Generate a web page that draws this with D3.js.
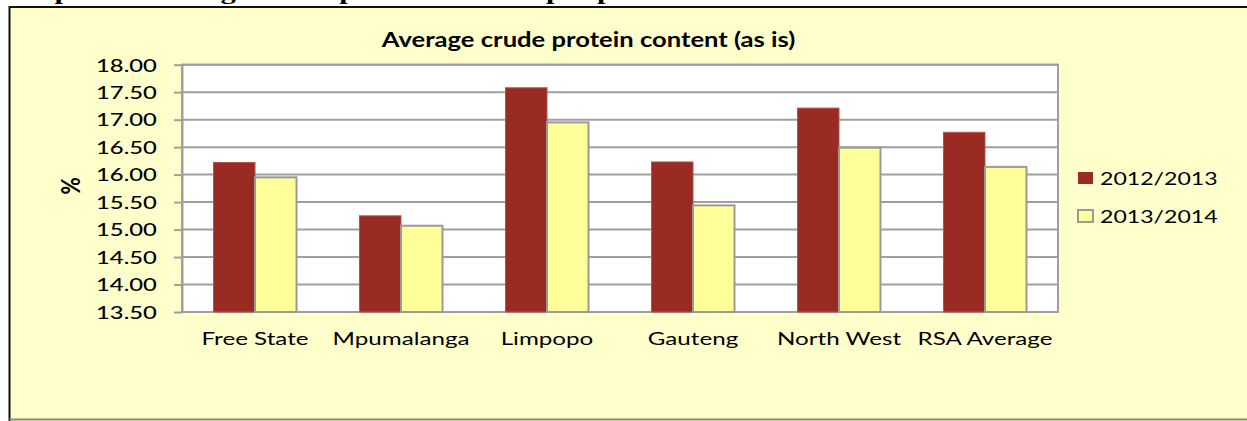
<!DOCTYPE html>
<html>
<head>
<meta charset="utf-8">
<script src="https://cdn.jsdelivr.net/npm/d3@7"></script>
<style>
  body { margin: 0; background: #fff; }
  svg { display: block; }
</style>
</head>
<body>
<div id="visualization"></div>
<script>
const categories = ['Free State', 'Mpumalanga', 'Limpopo', 'Gauteng', 'North West', 'RSA Average'];
const seriesNames = ['2012/2013', '2013/2014'];
const values2012 = [16.22, 15.25, 17.58, 16.23, 17.21, 16.77];
const values2013 = [15.95, 15.07, 16.95, 15.44, 16.49, 16.14];
const yTicks = [13.5, 14, 14.5, 15, 15.5, 16, 16.5, 17, 17.5, 18];
const chartTitle = 'Average crude protein content (as is)';
const captionText = 'Graph 10: Average crude protein content per province';

const width = 1247;
const height = 421;
const plot = { left: 182, right: 1058, top: 64.7, bottom: 312 };
const SX = 1.44; // the picture is stretched sideways, so is the text
const font = 'Lato, "DejaVu Sans", sans-serif';
const colors = ['#992B22', '#FFFF99'];

const svg = d3.select('#visualization')
  .append('svg')
  .attr('width', width)
  .attr('height', height);

// text placed at (x, y) and widened like the source
function stretchedText(x, y, str, sx = SX) {
  return svg.append('text')
    .attr('transform', `translate(${x},${y}) scale(${sx},1)`)
    .style('font-family', font)
    .text(str);
}

// caption above the chart box, only its descenders show
svg.append('text')
  .attr('transform', 'translate(2,-1) scale(1.39,1)')
  .style('font-family', '"Liberation Serif", serif')
  .style('font-weight', 'bold')
  .style('font-size', '22px')
  .text(captionText);

// chart box
svg.append('rect')
  .attr('x', 9.5)
  .attr('y', 7)
  .attr('width', width)
  .attr('height', 412)
  .attr('fill', '#FFFFCC')
  .attr('stroke', 'none');
svg.append('path')
  .attr('d', `M9.5,${height} V7 H${width}`)
  .attr('fill', 'none')
  .attr('stroke', '#111')
  .attr('stroke-width', 2);
svg.append('line')
  .attr('x1', 9.5).attr('x2', width)
  .attr('y1', 419.5).attr('y2', 419.5)
  .attr('stroke', '#8a8a6a')
  .attr('stroke-width', 2);

// scales
const x0 = d3.scaleBand()
  .domain(categories)
  .range([plot.left, plot.right])
  .paddingInner(0.4315)
  .paddingOuter(0.2158);

const x1 = d3.scaleBand()
  .domain(seriesNames)
  .range([0, x0.bandwidth()]);

const y = d3.scaleLinear()
  .domain([13.5, 18])
  .range([plot.bottom, plot.top]);

// plot area
svg.append('rect')
  .attr('x', plot.left)
  .attr('y', plot.top)
  .attr('width', plot.right - plot.left)
  .attr('height', plot.bottom - plot.top)
  .attr('fill', '#fff');

svg.append('g')
  .selectAll('line')
  .data(yTicks)
  .enter()
  .append('line')
  .attr('x1', plot.left)
  .attr('x2', plot.right)
  .attr('y1', (d) => y(d))
  .attr('y2', (d) => y(d))
  .attr('stroke', '#9f9f9f')
  .attr('stroke-width', 2);

svg.append('rect')
  .attr('x', plot.left)
  .attr('y', plot.top)
  .attr('width', plot.right - plot.left)
  .attr('height', plot.bottom - plot.top)
  .attr('fill', 'none')
  .attr('stroke', '#9f9f9f')
  .attr('stroke-width', 2);

// bars
const rows = categories.map((c, i) => ({ category: c, values: [values2012[i], values2013[i]] }));

svg.append('g')
  .selectAll('g')
  .data(rows)
  .enter()
  .append('g')
  .attr('transform', (d) => `translate(${x0(d.category)},0)`)
  .selectAll('rect')
  .data((d) => d.values.map((v, j) => ({ series: seriesNames[j], value: v, j })))
  .enter()
  .append('rect')
  .attr('x', (d) => x1(d.series))
  .attr('y', (d) => y(d.value))
  .attr('width', x1.bandwidth())
  .attr('height', (d) => y(13.5) - y(d.value))
  .attr('fill', (d) => colors[d.j])
  .attr('stroke', (d) => (d.j === 0 ? '#b8544c' : '#9a9a9a'))
  .attr('stroke-width', (d) => (d.j === 0 ? 1 : 2));

// y axis
const yAxis = svg.append('g')
  .attr('transform', `translate(${plot.left},0)`)
  .call(d3.axisLeft(y).tickValues(yTicks).tickSize(8).tickSizeOuter(0).tickFormat(d3.format('.2f')));

yAxis.select('.domain').attr('stroke', '#9f9f9f').attr('stroke-width', 2);
yAxis.selectAll('.tick line').attr('stroke', '#9f9f9f').attr('stroke-width', 2);
yAxis.selectAll('.tick text')
  .attr('x', -18.5)
  .attr('dy', '0.36em')
  .attr('transform', 'scale(1.36,1)')
  .style('font-family', font)
  .style('font-size', '17.5px')
  .style('font-weight', 500)
  .attr('fill', '#000');

// x labels
categories.forEach((c) => {
  stretchedText(x0(c) + x0.bandwidth() / 2, 345, c)
    .attr('text-anchor', 'middle')
    .style('font-size', '16.8px')
    .attr('fill', '#000');
});

// title
stretchedText(588.5, 47, chartTitle, 1.28)
  .attr('text-anchor', 'middle')
  .style('font-size', '20px')
  .style('font-weight', 'bold')
  .attr('fill', '#000');

// y label
svg.append('text')
  .attr('transform', 'translate(80,186) rotate(-90) scale(1,1.3)')
  .attr('text-anchor', 'middle')
  .style('font-family', font)
  .style('font-size', '21px')
  .style('font-weight', 'bold')
  .attr('fill', '#000')
  .text('%');

// legend
seriesNames.forEach((s, i) => {
  const ly = 178 + i * 38;
  svg.append('rect')
    .attr('x', 1078)
    .attr('y', ly - 6)
    .attr('width', 15)
    .attr('height', 12)
    .attr('fill', colors[i])
    .attr('stroke', i === 0 ? 'none' : '#9a9a9a')
    .attr('stroke-width', 2);
  stretchedText(1100, ly + 6.5, s, 1.32)
    .style('font-size', '17.5px')
    .attr('fill', '#000');
});
</script>
</body>
</html>
